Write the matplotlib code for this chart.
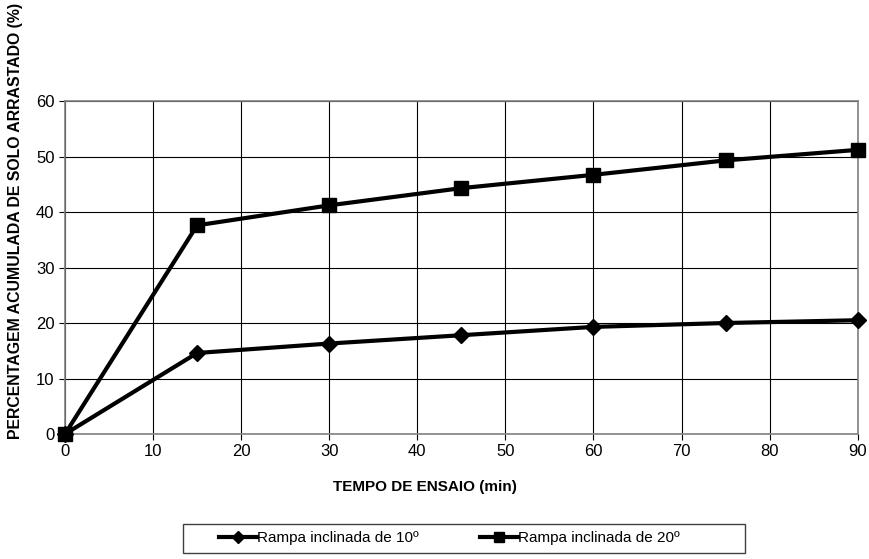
import matplotlib.pyplot as plt
from matplotlib.patches import Rectangle

plt.rcParams['font.family'] = ['Liberation Sans', 'DejaVu Sans']

tempo = [0, 15, 30, 45, 60, 75, 90]
rampa_10 = [0, 14.6, 16.3, 17.8, 19.3, 20.0, 20.5]
rampa_20 = [0, 37.6, 41.2, 44.3, 46.7, 49.3, 51.2]

x_ticks = list(range(0, 91, 10))
y_ticks = list(range(0, 61, 10))

fig = plt.figure(figsize=(8.69, 5.59), dpi=100)
ax = fig.add_axes([0.0748, 0.2236, 0.9122, 0.5957])

l1, = ax.plot(tempo, rampa_10, color='black', lw=3, marker='D', markersize=8,
              label='Rampa inclinada de 10º', clip_on=False, zorder=5)
l2, = ax.plot(tempo, rampa_20, color='black', lw=3, marker='s', markersize=10,
              label='Rampa inclinada de 20º', clip_on=False, zorder=5)

ax.set_xlim(0, 90)
ax.set_ylim(0, 60)
ax.set_xticks(x_ticks)
ax.set_yticks(y_ticks)
ax.grid(True, color='black', lw=0.8)
for s in ax.spines.values():
    s.set_color('#808080')
    s.set_linewidth(1.2)
ax.tick_params(labelsize=12, color='black', length=4)

fig.text(0.489, 0.128, 'TEMPO DE ENSAIO (min)', ha='center', va='center',
         fontsize=11, fontweight='bold')
fig.text(0.018, 0.605, 'PERCENTAGEM ACUMULADA DE SOLO ARRASTADO (%)', ha='center',
         va='center', rotation=90, fontsize=11.4, fontweight='bold')

# caixa da legenda desenhada à parte (mais larga que o conteúdo)
fig.patches.append(Rectangle((0.2106, 0.0107), 0.6467, 0.0519, transform=fig.transFigure,
                             facecolor='none', edgecolor='#404040', lw=1))
fig.legend(handles=[l1, l2], loc='center', bbox_to_anchor=(0.5167, 0.0376),
           ncol=2, fontsize=11, frameon=False, handlelength=2.5,
           columnspacing=4, handletextpad=0.0, markerscale=0.75)

plt.savefig('out.png', dpi=100)
